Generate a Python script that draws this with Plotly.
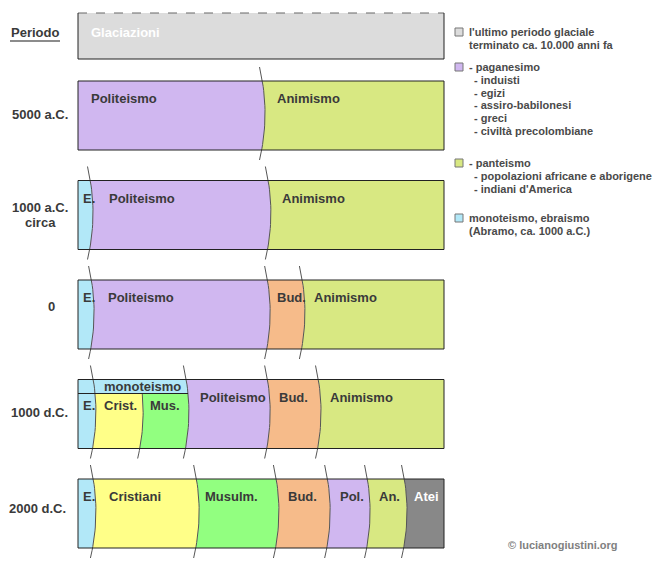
import plotly.graph_objects as go

# ---------------- data ----------------
PERIODS = ["5000 a.C.", "1000 a.C.<br>circa", "0", "1000 d.C.", "2000 d.C."]

ROW_5000_LABELS = ["Politeismo", "Animismo"]
ROW_5000_CATS = ["pol", "ani"]
ROW_5000_SHARES = [51.1, 48.9]

ROW_1000AC_LABELS = ["E.", "Politeismo", "Animismo"]
ROW_1000AC_CATS = ["ebr", "pol", "ani"]
ROW_1000AC_SHARES = [4.1, 48.6, 47.3]

ROW_0_LABELS = ["E.", "Politeismo", "Bud.", "Animismo"]
ROW_0_CATS = ["ebr", "pol", "bud", "ani"]
ROW_0_SHARES = [4.4, 48.1, 9.5, 38.0]

ROW_1000DC_LABELS = ["E.", "Crist.", "Mus.", "Politeismo", "Bud.", "Animismo"]
ROW_1000DC_CATS = ["ebr", "cri", "mus", "pol", "bud", "ani"]
ROW_1000DC_SHARES = [4.9, 12.9, 12.5, 22.2, 13.9, 33.6]
ROW_1000DC_GROUP_LABEL = "monoteismo"
ROW_1000DC_GROUP_SIZE = 3   # first three segments under "monoteismo"

ROW_2000_LABELS = ["E.", "Cristiani", "Musulm.", "Bud.", "Pol.", "An.", "Atei"]
ROW_2000_CATS = ["ebr", "cri", "mus", "bud", "pol", "ani", "atei"]
ROW_2000_SHARES = [4.9, 28.2, 21.8, 14.0, 10.9, 10.1, 10.1]

ROWS = [
    (ROW_5000_LABELS, ROW_5000_CATS, ROW_5000_SHARES),
    (ROW_1000AC_LABELS, ROW_1000AC_CATS, ROW_1000AC_SHARES),
    (ROW_0_LABELS, ROW_0_CATS, ROW_0_SHARES),
    (ROW_1000DC_LABELS, ROW_1000DC_CATS, ROW_1000DC_SHARES),
    (ROW_2000_LABELS, ROW_2000_CATS, ROW_2000_SHARES),
]

GLACIAL_LABEL = "Glaciazioni"
HEADER_LABEL = "Periodo"

LEGEND_ITEMS = [
    ("gla", ["l'ultimo periodo glaciale", "terminato ca. 10.000 anni fa"]),
    ("pol", ["- paganesimo", "  - induisti", "  - egizi", "  - assiro-babilonesi",
             "  - greci", "  - civiltà precolombiane"]),
    ("ani", ["- panteismo", "  - popolazioni africane e aborigene", "  - indiani d'America"]),
    ("ebr", ["monoteismo, ebraismo", "(Abramo, ca. 1000 a.C.)"]),
]
COPYRIGHT = "© lucianogiustini.org"

# ---------------- style ----------------
COLORS = {
    "gla": "#DCDCDC", "pol": "#D0B7F0", "ani": "#D8E882", "ebr": "#B2E8F8",
    "bud": "#F6BB8A", "cri": "#FFFF88", "mus": "#92FF80", "atei": "#888888",
}
W, H = 660, 571
FONT = "Liberation Sans"
TXT = "#3a3a3a"
BORDER = "#222222"
CURVE = "#555555"

PX_X0, PX_W = 78.0, 366.0          # box left edge / width in px
ROW_PX0, ROW_STEP = 115.5, 99.5    # first row centre / row spacing in px
BOX_H = 69.0 / ROW_STEP            # box height in row units
HB = BOX_H / 2
EXT_TOP, EXT_BOT = 14 / ROW_STEP, 10 / ROW_STEP
ARC_SHIFT = (EXT_BOT - EXT_TOP) / 2
ARC_HALF = HB + (EXT_TOP + EXT_BOT) / 2
SAG = 5.5 / PX_W * 100
STRIP_H = 14 / ROW_STEP
GLA_C, GLA_H = (36 - ROW_PX0) / ROW_STEP, 46 / ROW_STEP

LABEL_PAD_PX = [
    [11, 10],
    [3, 14, 9],
    [3, 12, 5, 7],
    [3, 6, 5, 9, 7, 7],
    [3, 11, 4, 7, 8, 7, 5],
]
LABEL_DY_PX = 17.5
LOWER_DY_PX = 26

xr = [-PX_X0 / PX_W * 100, (W - PX_X0) / PX_W * 100]
yr = [(H - ROW_PX0) / ROW_STEP, (0 - ROW_PX0) / ROW_STEP]


def curve_x(xb, y, yc):
    return xb - SAG * ((y - (yc + ARC_SHIFT)) / ARC_HALF) ** 2


def edge(xb, y, yc):
    if xb is None:
        return None
    return curve_x(xb, y, yc)


def ys(a, b, n=25):
    return [a + (b - a) * i / (n - 1) for i in range(n)]


fig = go.Figure()
shapes = []
ann = []


def add_poly(xl, xrr, y0, y1, yc, color):
    yy = ys(y0, y1)
    px, py = [], []
    for y in yy:
        px.append(100.0 if xrr is None else curve_x(xrr, y, yc)); py.append(y)
    for y in reversed(yy):
        px.append(0.0 if xl is None else curve_x(xl, y, yc)); py.append(y)
    fig.add_trace(go.Scatter(x=px, y=py, fill="toself", fillcolor=color, mode="lines",
                             line=dict(width=0), hoverinfo="skip", showlegend=False))


def add_curve(xb, y0, y1, yc):
    yy = ys(y0, y1)
    fig.add_trace(go.Scatter(x=[curve_x(xb, y, yc) for y in yy], y=yy, mode="lines",
                             line=dict(color=CURVE, width=1), hoverinfo="skip",
                             showlegend=False))


def text(x, y, s, size=13, color=TXT, xanchor="left", xshift=0, xref="x", yref="y"):
    ann.append(dict(x=x, y=y, xref=xref, yref=yref, text=s, showarrow=False,
                    xanchor=xanchor, yanchor="middle", xshift=xshift,
                    font=dict(family=FONT, size=size, color=color, weight="bold")))


# glacial box
shapes.append(dict(type="rect", xref="x", yref="y", x0=0, x1=100,
                   y0=GLA_C - GLA_H / 2, y1=GLA_C + GLA_H / 2,
                   fillcolor=COLORS["gla"], line=dict(width=0), layer="below"))
for (x0, y0, x1, y1, dash, col) in [
    (0, GLA_C - GLA_H / 2, 100, GLA_C - GLA_H / 2, "dash", "#666666"),
    (0, GLA_C - GLA_H / 2, 0, GLA_C + GLA_H / 2, "solid", BORDER),
    (100, GLA_C - GLA_H / 2, 100, GLA_C + GLA_H / 2, "solid", BORDER),
    (0, GLA_C + GLA_H / 2, 100, GLA_C + GLA_H / 2, "solid", BORDER),
]:
    shapes.append(dict(type="line", xref="x", yref="y", x0=x0, y0=y0, x1=x1, y1=y1,
                       line=dict(color=col, width=1, dash=dash)))
text(0, GLA_C - GLA_H / 2 + 19 / ROW_STEP, GLACIAL_LABEL, color="white", xshift=11)

# rows
for r, (labels, cats, shares) in enumerate(ROWS):
    yc = float(r)
    top, bot = yc - HB, yc + HB
    bounds = []
    acc = 0.0
    for s in shares:
        acc += s
        bounds.append(acc)
    inner = bounds[:-1]
    is_group = (r == 3)
    for j, cat in enumerate(cats):
        xl = None if j == 0 else inner[j - 1]
        xrr = None if j == len(cats) - 1 else inner[j]
        y0 = top + STRIP_H if (is_group and 0 < j < ROW_1000DC_GROUP_SIZE) else top
        add_poly(xl, xrr, y0, bot, yc, COLORS[cat])
    if is_group:
        xg = inner[ROW_1000DC_GROUP_SIZE - 1]
        add_poly(None, xg, top, top + STRIP_H, yc, COLORS["ebr"])
        ysl = top + STRIP_H
        shapes.append(dict(type="line", xref="x", yref="y", x0=0, x1=curve_x(xg, ysl, yc),
                           y0=ysl, y1=ysl, line=dict(color=BORDER, width=1)))
        text((inner[0] + xg) / 2, top + STRIP_H / 2, ROW_1000DC_GROUP_LABEL, xanchor="center")
    for j, xb in enumerate(inner):
        if is_group and 0 < j < ROW_1000DC_GROUP_SIZE - 1:
            add_curve(xb, top + STRIP_H, bot + EXT_BOT, yc)
        else:
            add_curve(xb, top - EXT_TOP, bot + EXT_BOT, yc)
    shapes.append(dict(type="rect", xref="x", yref="y", x0=0, x1=100, y0=top, y1=bot,
                       line=dict(color=BORDER, width=1), fillcolor="rgba(0,0,0,0)"))
    for j, lab in enumerate(labels):
        xs = 0.0 if j == 0 else inner[j - 1]
        dy = LOWER_DY_PX if (is_group and j < ROW_1000DC_GROUP_SIZE) else LABEL_DY_PX
        col = "white" if cats[j] == "atei" else TXT
        text(xs, top + dy / ROW_STEP, lab, color=col, xshift=LABEL_PAD_PX[r][j])

# period labels (left)
PERIOD_POS_PX = [(40, 115), (40, 207), (52, 306), (39, 412), (37, 508)]
for lab, (px, py) in zip(PERIODS, PERIOD_POS_PX):
    if "<br>" in lab:
        a, b = lab.split("<br>")
        text(px / W, 1 - py / H, a, xanchor="center", xref="paper", yref="paper")
        text(px / W, 1 - (py + 15) / H, b, xanchor="center", xref="paper", yref="paper")
    else:
        text(px / W, 1 - py / H, lab, xanchor="center", xref="paper", yref="paper")
text(35 / W, 1 - 32 / H, HEADER_LABEL, xanchor="center", xref="paper", yref="paper")
shapes.append(dict(type="line", xref="paper", yref="paper", x0=10 / W, x1=60 / W,
                   y0=1 - 41 / H, y1=1 - 41 / H, line=dict(color="#666666", width=1.5)))

# legend
LEG_Y0 = [32, 67, 163, 218]
LINE_H = 12.8
LEG_COL = "#4a4a4a"
for (cat, lines), y0 in zip(LEGEND_ITEMS, LEG_Y0):
    shapes.append(dict(type="rect", xref="paper", yref="paper",
                       x0=455 / W, x1=463 / W, y0=1 - (y0 - 4) / H, y1=1 - (y0 + 4) / H,
                       fillcolor=COLORS[cat], line=dict(color="#777777", width=1)))
    for k, ln in enumerate(lines):
        indent = 5 if ln.startswith("  ") else 0
        text((467 + indent) / W, 1 - (y0 + k * LINE_H) / H, ln.strip(), size=11,
             color=LEG_COL, xref="paper", yref="paper")
text(563 / W, 1 - 545 / H, COPYRIGHT, size=11, color="#808080", xanchor="center",
     xref="paper", yref="paper")

fig.update_layout(
    width=W, height=H, margin=dict(l=0, r=0, t=0, b=0),
    paper_bgcolor="white", plot_bgcolor="white",
    xaxis=dict(range=xr, visible=False, fixedrange=True),
    yaxis=dict(range=yr, visible=False, fixedrange=True),
    shapes=shapes, annotations=ann, showlegend=False,
)
fig.write_html("out.html", config={"displayModeBar": False})
